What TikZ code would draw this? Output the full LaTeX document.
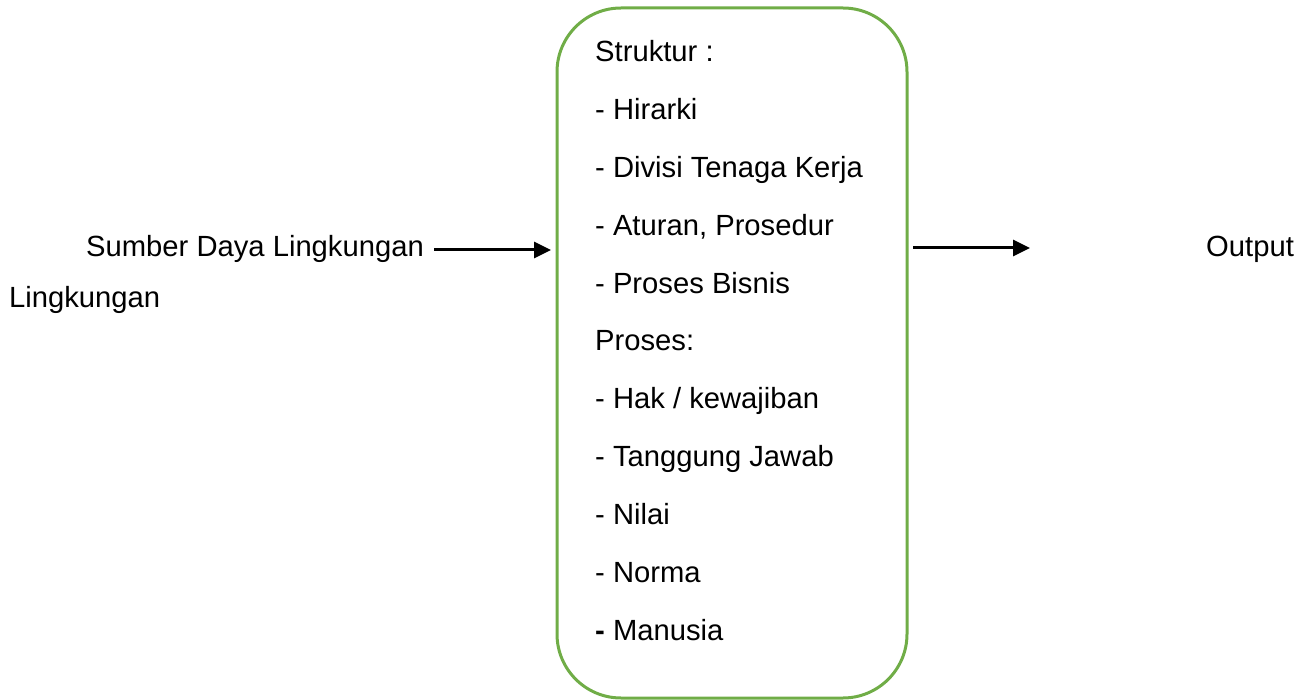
\documentclass[tikz,border=0pt]{standalone}
\usepackage{fontspec}
\setmainfont{Liberation Sans}
\usetikzlibrary{arrows.meta}
\definecolor{boxgreen}{HTML}{70AD47}
\begin{document}
\begin{tikzpicture}[x=1pt,y=-1pt,
  lbl/.style={anchor=base west,inner sep=0pt,font=\fontsize{29.2}{35}\selectfont},
  flow/.style={line width=3pt,-{Triangle[length=17pt,width=16pt]}}]
\useasboundingbox (0,0) rectangle (1309,700);
% rounded process box
\draw[boxgreen,line width=3pt,rounded corners=64pt] (557,8) rectangle (907,698);
\coordinate (boxW) at (551,250);
\coordinate (boxE) at (913,248);
% list inside the box
\foreach \t [count=\i from 0] in {Struktur :,- Hirarki,- Divisi Tenaga Kerja,{- Aturan, Prosedur},- Proses Bisnis,Proses:,- Hak / kewajiban,- Tanggung Jawab,- Nilai,- Norma}
  \node[lbl] (item\i) at (595,62+57.8*\i) {\t};
\node[lbl] (item10) at (595,640) {\textbf{-} Manusia};
% input and output labels
\node[lbl] (src) at (86,257) {Sumber Daya Lingkungan};
\node[lbl] (src2) at (9,308) {Lingkungan};
\node[lbl] (out) at (1206,257) {Output};
\coordinate (srcE) at (434,250);
\coordinate (outW) at (1030,248);
\draw[flow] (srcE) -- (boxW);
\draw[flow] (boxE) -- (outW);
\end{tikzpicture}
\end{document}
